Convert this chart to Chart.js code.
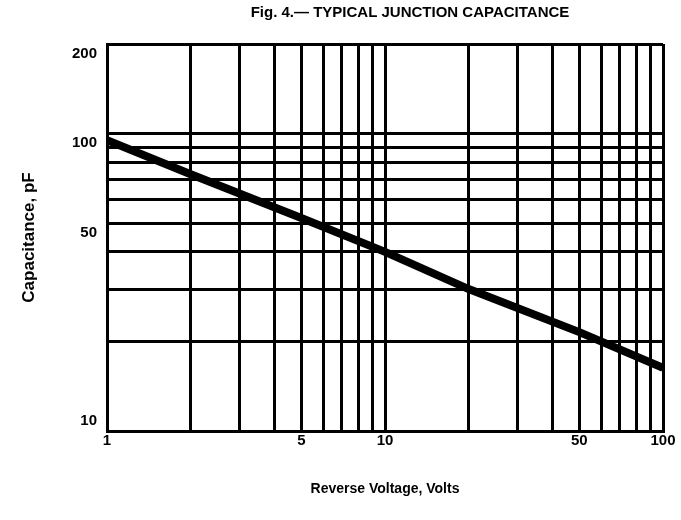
<!DOCTYPE html>
<html>
<head>
<meta charset="utf-8">
<script src="https://cdn.jsdelivr.net/npm/chart.js@4"></script>
<style>
  html, body { margin: 0; padding: 0; background: #fff; }
  #wrap { width: 681px; height: 520px; position: relative; }
</style>
</head>
<body>
<div id="wrap"><canvas id="chart"></canvas></div>
<script>
// values
const voltage = [1, 2, 5, 10, 20, 50, 100];
const capacitance = [95, 73, 52, 40, 30, 21.5, 16.3];

const xGridValues = [1, 2, 3, 4, 5, 6, 7, 8, 9, 10, 20, 30, 40, 50, 60, 70, 80, 90, 100];
const xTickLabels = [1, 5, 10, 50, 100];
const yGridValues = [10, 20, 30, 40, 50, 60, 70, 80, 90, 100, 200];
const yTickLabels = [10, 50, 100, 200];

const FONT = "'Liberation Sans', Arial, sans-serif";
const TITLE = 'Fig. 4.\u2014 TYPICAL JUNCTION CAPACITANCE';

// the scanned figure has its heading off-centre, to the right
const figureTitlePlugin = {
    id: 'figureTitle',
    afterDraw(chart) {
        const { ctx } = chart;
        ctx.save();
        ctx.font = `bold 15px ${FONT}`;
        ctx.fillStyle = '#000';
        ctx.textAlign = 'center';
        ctx.textBaseline = 'middle';
        ctx.fillText(TITLE, 410, 13);
        ctx.restore();
    },
};

const canvas = document.getElementById('chart');

new Chart(canvas, {
    type: 'line',
    data: {
        datasets: [
            {
                label: 'Capacitance',
                data: voltage.map((v, i) => ({ x: v, y: capacitance[i] })),
                borderColor: '#000',
                borderWidth: 8,
                borderCapStyle: 'butt',
                pointRadius: 0,
                fill: false,
                tension: 0,
            },
        ],
    },
    options: {
        responsive: true,
        maintainAspectRatio: false,
        animation: false,
        events: [],
        layout: {
            padding: { left: 0, right: 18, top: 44, bottom: 0 },
        },
        scales: {
            x: {
                type: 'logarithmic',
                min: 1,
                max: 100,
                afterBuildTicks: (scale) => {
                    scale.ticks = xGridValues.map((value) => ({ value }));
                },
                afterFit: (scale) => {
                    scale.height = 89;
                },
                ticks: {
                    autoSkip: false,
                    maxRotation: 0,
                    padding: 1,
                    color: '#000',
                    font: { family: FONT, size: 15, weight: 'bold' },
                    callback: (value) => (xTickLabels.includes(value) ? String(value) : ''),
                },
                grid: {
                    color: '#000',
                    lineWidth: 3,
                    drawTicks: false,
                },
                border: { color: '#000', width: 3 },
                title: {
                    display: true,
                    text: 'Reverse Voltage, Volts',
                    color: '#000',
                    font: { family: FONT, size: 14, weight: 'bold' },
                    padding: { top: 0, bottom: 22 },
                },
            },
            y: {
                type: 'logarithmic',
                min: 10,
                max: 200,
                afterBuildTicks: (scale) => {
                    scale.ticks = yGridValues.map((value) => ({ value }));
                },
                afterFit: (scale) => {
                    scale.width = 107;
                },
                ticks: {
                    autoSkip: false,
                    padding: 10,
                    color: '#000',
                    font: { family: FONT, size: 15, weight: 'bold', lineHeight: 1.3 },
                    // labels sit a little below their lines in the figure, "10" a little above
                    callback: (value) => {
                        if (!yTickLabels.includes(value)) return '';
                        return value === 10 ? ['10', ''] : ['', String(value)];
                    },
                },
                grid: {
                    color: '#000',
                    lineWidth: 3,
                    drawTicks: false,
                },
                border: { color: '#000', width: 3 },
                title: {
                    display: true,
                    text: 'Capacitance, pF',
                    color: '#000',
                    font: { family: FONT, size: 17, weight: 'bold' },
                    padding: { top: 19, bottom: 0 },
                },
            },
        },
        plugins: {
            legend: { display: false },
            tooltip: { enabled: false },
            title: { display: false },
        },
    },
    plugins: [figureTitlePlugin],
});
</script>
</body>
</html>
